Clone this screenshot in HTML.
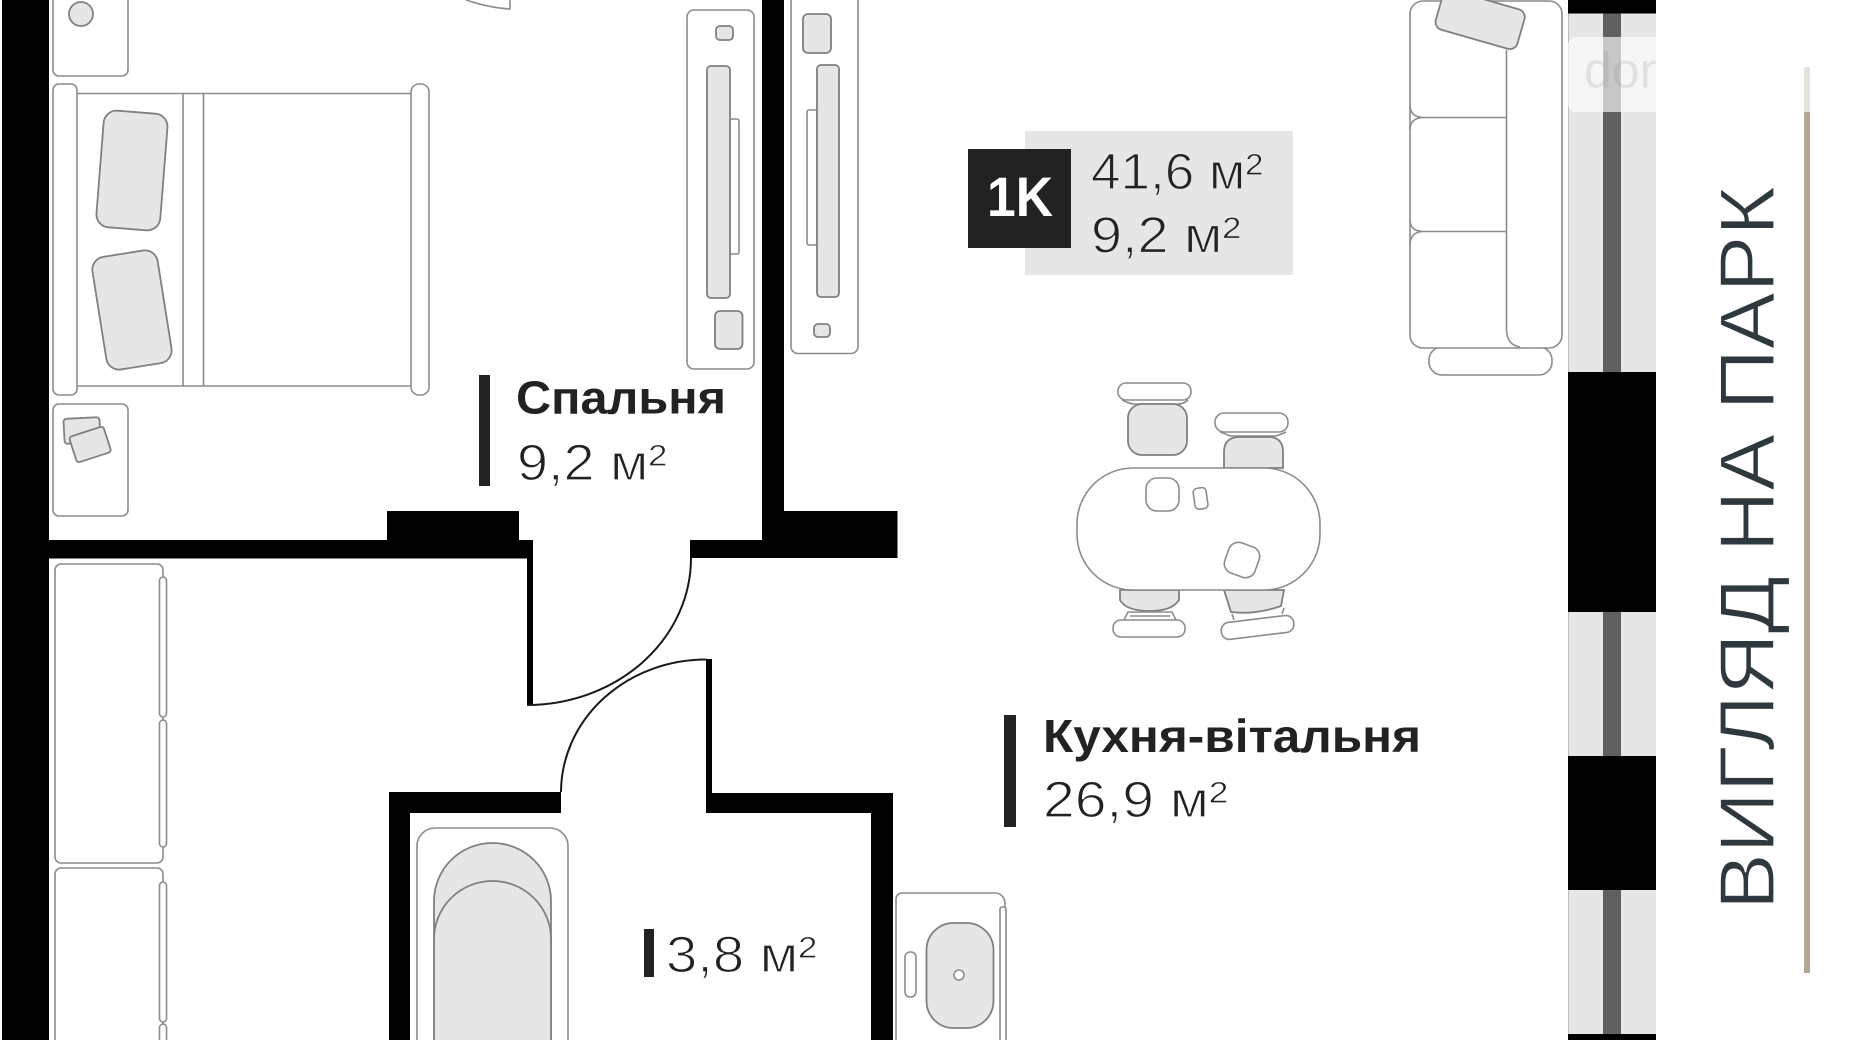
<!DOCTYPE html>
<html><head><meta charset="utf-8"><title>План квартири 1К</title>
<style>
html,body{margin:0;padding:0;background:#fff;width:1850px;height:1040px;overflow:hidden}
svg{display:block}
text{font-family:"Liberation Sans",sans-serif}
.f{fill:#fff;stroke:#8c8c8c;stroke-width:1.6}
.g{fill:#e6e6e6;stroke:#808080;stroke-width:1.8}
.l{fill:none;stroke:#8c8c8c;stroke-width:1.6}
.d{fill:none;stroke:#1a1a1a;stroke-width:2}
.lt{fill:#222;stroke:#fff;stroke-width:1.2;font-size:51px}
.lg{fill:#222;stroke:#e6e6e6;stroke-width:1.2;font-size:51px}
.b{fill:#222;font-weight:bold;font-size:46px}
</style></head><body>
<svg width="1850" height="1040" viewBox="0 0 1850 1040" xmlns="http://www.w3.org/2000/svg">
<rect width="1850" height="1040" fill="#fff"/>

<!-- walls -->
<g fill="#000">
<rect x="2" y="0" width="47" height="1040"/>
<rect x="48" y="540" width="485" height="18.500"/>
<rect x="387" y="511" width="132" height="30"/>
<rect x="527" y="540" width="6" height="165"/>
<rect x="762" y="0" width="22" height="540"/>
<rect x="762" y="511" width="135.500" height="47"/>
<rect x="690" y="540" width="80" height="18"/>
<rect x="389" y="792" width="172" height="21"/>
<rect x="389" y="792" width="21" height="248"/>
<rect x="706" y="793" width="187" height="20"/>
<rect x="871" y="793" width="22" height="247"/>
<rect x="706" y="659" width="6" height="140"/>
</g>
<path class="d" d="M691 558A164 147 0 0 1 527 705"/>
<path class="d" d="M561 792A145 133 0 0 1 706 659.500"/>
<path class="l" d="M466 0Q490 8 510 9V0"/>

<!-- night tables -->
<path class="f" d="M53 -5V70a6 6 0 0 0 6 6H122a6 6 0 0 0 6-6V-5"/>
<circle class="g" cx="81" cy="14" r="12"/>
<rect class="f" x="53" y="404" width="75" height="112" rx="6"/>
<rect class="g" x="64" y="418" width="36" height="25" rx="3" transform="rotate(-3 82 430)"/>
<rect class="g" x="72" y="431" width="36" height="27" rx="3" transform="rotate(-18 90 444)"/>

<!-- bed -->
<path class="l" d="M77 93.500H411M77 386H411M183 93.500V386M203.500 93.500V386"/>
<rect class="f" x="53" y="84" width="24" height="311" rx="6"/>
<rect class="f" x="411" y="84" width="18" height="311" rx="8"/>
<rect class="g" x="100" y="112" width="64" height="117" rx="13" transform="rotate(4.500 132 170)"/>
<rect class="g" x="99" y="253" width="66" height="114" rx="13" transform="rotate(-9 132 310)"/>

<!-- wall panels -->
<rect class="f" x="687" y="10" width="67" height="359" rx="7"/>
<rect class="g" x="716" y="26" width="17" height="14" rx="4"/>
<rect class="f" x="730" y="119" width="9" height="135" rx="2"/>
<rect class="g" x="707" y="66" width="23" height="232" rx="4"/>
<rect class="g" x="715" y="311" width="27.500" height="38" rx="5"/>
<rect class="f" x="791" y="-8" width="67" height="361.500" rx="7"/>
<rect class="g" x="803" y="14" width="28" height="39" rx="5"/>
<rect class="f" x="807" y="110" width="10" height="135" rx="2"/>
<rect class="g" x="817" y="65" width="22" height="232" rx="4"/>
<rect class="g" x="814" y="324" width="16" height="13" rx="4"/>

<!-- labels -->
<rect x="479" y="375" width="11" height="111" fill="#222"/>
<text class="b" x="516" y="413.500" textLength="210" lengthAdjust="spacingAndGlyphs">Спальня</text>
<text class="lt" x="517" y="480" textLength="150" lengthAdjust="spacingAndGlyphs">9,2 м²</text>

<rect x="1004" y="715" width="12" height="112" fill="#222"/>
<text class="b" x="1043" y="752" textLength="378" lengthAdjust="spacingAndGlyphs">Кухня-вітальня</text>
<text class="lt" x="1043" y="817" textLength="185" lengthAdjust="spacingAndGlyphs">26,9 м²</text>

<rect x="644" y="929" width="10" height="48" fill="#222"/>
<text class="lt" x="666" y="972" textLength="151" lengthAdjust="spacingAndGlyphs">3,8 м²</text>

<!-- badge -->
<rect x="1025" y="131" width="268" height="144" fill="#e6e6e6"/>
<rect x="968" y="149" width="103" height="99" fill="#222"/>
<text x="987" y="216" fill="#fff" font-weight="bold" font-size="56" textLength="66" lengthAdjust="spacingAndGlyphs">1K</text>
<text class="lg" x="1091" y="189" textLength="172" lengthAdjust="spacingAndGlyphs">41,6 м²</text>
<text class="lg" x="1091" y="252.500" textLength="150" lengthAdjust="spacingAndGlyphs">9,2 м²</text>

<!-- dining -->
<g>
<path class="l" d="M1122 400Q1130 404 1134 404H1178Q1184 404 1188 400"/>
<rect class="f" x="1118" y="383" width="73" height="17" rx="8"/>
<rect class="g" x="1128" y="404" width="59" height="51" rx="14"/>
<path class="l" d="M1220 432Q1226 434 1230 436H1276Q1282 434 1286 432"/>
<rect class="f" x="1215" y="413" width="73" height="19" rx="9"/>
<path class="g" d="M1224 468V452Q1224 438 1238 437H1270Q1283 438 1283 452V468Z"/>
<path class="g" d="M1120 590H1179V600Q1172 611 1150 611Q1126 611 1120 600Z"/>
<path class="l" d="M1124 620L1128 612H1172L1176 620M1130 616H1170"/>
<rect class="f" x="1113" y="620" width="72" height="17" rx="8"/>
<path class="g" d="M1224 590H1284L1281 606Q1255 615 1231 612Z"/>
<path class="l" d="M1234 620L1232 614M1282 614L1284 608"/>
<rect class="f" x="1221" y="619" width="73" height="17" rx="8" transform="rotate(-7 1257 627)"/>
<rect class="f" x="1077" y="468" width="243" height="122" rx="56"/>
<rect class="f" x="1146" y="478" width="33" height="33" rx="11" stroke-width="2.200"/>
<rect class="f" x="1194" y="488" width="13" height="21" rx="4" transform="rotate(-8 1200 498)"/>
<rect class="f" x="1226" y="544" width="32" height="32" rx="10" stroke-width="2.200" transform="rotate(20 1242 560)"/>
</g>

<!-- sofa -->
<rect class="f" x="1429" y="347" width="123" height="28" rx="13"/>
<rect class="f" x="1410" y="1" width="152" height="347" rx="13"/>
<path class="l" d="M1506.500 50V330Q1507 345 1520 347"/>
<path class="l" d="M1506.500 117.500H1423Q1410 117 1410 105M1423 117.500Q1410 118 1410 130M1506.500 231.500H1423Q1410 231 1410 220M1423 231.500Q1410 232 1410 245"/>
<rect class="g" x="1437.500" y="-1" width="85" height="41" rx="8" transform="rotate(16 1480 20)"/>

<!-- closets -->
<rect class="f" x="55" y="564" width="108" height="299" rx="6"/>
<rect class="f" x="159.500" y="577" width="7" height="140" rx="3.500"/>
<rect class="f" x="159.500" y="720" width="7" height="127" rx="3.500"/>
<rect class="f" x="55" y="868" width="108" height="190" rx="6"/>
<rect class="f" x="159.500" y="882" width="7" height="140" rx="3.500"/>
<rect class="f" x="159.500" y="1024" width="7" height="40" rx="3.500"/>

<!-- bath -->
<path class="f" d="M417 1050V846a18 18 0 0 1 18-18H550a18 18 0 0 1 18 18V1050"/>
<path class="g" d="M434 1050V901A58.500 58 0 0 1 551 901V1050"/>
<path class="g" d="M434 1050V939A58.500 58 0 0 1 551 939V1050" stroke-width="2.200"/>

<!-- sink -->
<path class="f" d="M896 1050V899a6 6 0 0 1 6-6H995a10 10 0 0 1 10 10V1050"/>
<rect class="f" x="1000" y="907" width="6" height="140" rx="2"/>
<rect class="g" x="926.500" y="923" width="67" height="105" rx="27"/>
<circle class="f" cx="959" cy="975" r="5" stroke-width="2"/>
<rect class="f" x="905" y="952" width="11" height="45" rx="5"/>

<!-- window strip -->
<rect x="1568" y="0" width="88" height="1040" fill="#e6e6e6"/>
<rect x="1568" y="0" width="1" height="1040" fill="#bdbdbd"/>
<rect x="1603" y="0" width="18" height="1040" fill="#606060"/>
<g fill="#000">
<rect x="1568" y="0" width="88" height="13.500"/>
<rect x="1568" y="372" width="88" height="240"/>
<rect x="1568" y="756" width="88" height="134"/>
<rect x="1568" y="1034" width="88" height="6"/>
</g>

<!-- watermark clipped at the strip edge -->
<svg x="1568" y="37" width="88" height="75" viewBox="1568 37 88 75">
<rect x="1568" y="37" width="120" height="75" rx="8" fill="#fff" fill-opacity=".65"/>
<text x="1584" y="87.500" font-size="50" fill="#777" fill-opacity=".16">dom</text>
</svg>

<!-- right side -->
<rect x="1804" y="112" width="6" height="861" fill="#b5a595"/>
<rect x="1804" y="67" width="6" height="45" fill="#e6e3dc"/>
<text transform="translate(1774 910) rotate(-90)" font-size="78" fill="#2e393d" stroke="#fff" stroke-width="1.200" textLength="724" lengthAdjust="spacingAndGlyphs">ВИГЛЯД НА ПАРК</text>
</svg>
</body></html>
